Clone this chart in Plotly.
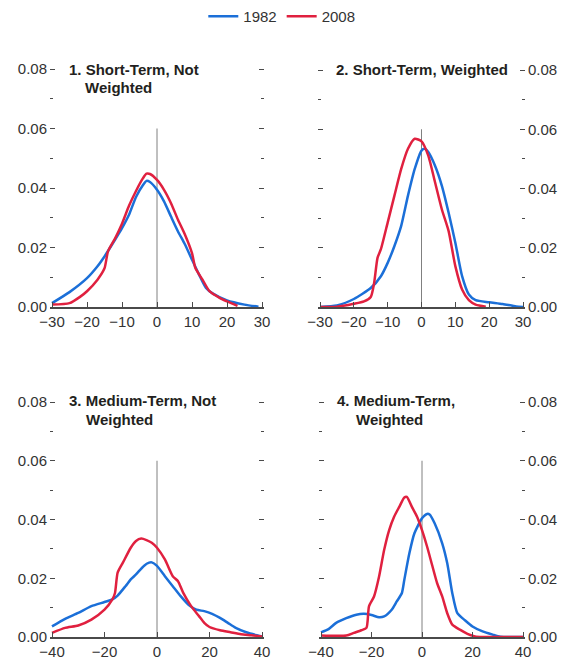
import plotly.graph_objects as go

W, H = 567, 664

# ---------------- data ----------------
p1_x_1982 = [-30, -25, -20, -17, -15, -12, -10, -8, -6, -4, -3, -2, 0, 2, 4, 6, 8, 10, 12, 14, 16, 20, 25, 29]
p1_y_1982 = [0.0013, 0.005, 0.0097, 0.0137, 0.017, 0.0226, 0.0265, 0.031, 0.037, 0.041, 0.0424, 0.042, 0.0394,
             0.0355, 0.0304, 0.0254, 0.021, 0.0159, 0.0109, 0.0064, 0.0045, 0.0022, 0.0008, 0.0001]
p1_x_2008 = [-30, -25, -22, -20, -17, -15, -14, -12, -10, -8, -6, -4, -3, -2, 0, 2, 4, 6, 8, 10, 11, 13, 15, 18, 20, 23]
p1_y_2008 = [0.0008, 0.0013, 0.0034, 0.0053, 0.0092, 0.013, 0.0187, 0.023, 0.028, 0.034, 0.039, 0.0433, 0.0448,
             0.0447, 0.0427, 0.0394, 0.0349, 0.0293, 0.0243, 0.0181, 0.013, 0.0092, 0.0053, 0.003, 0.0019, 0.0004]

p2_x_1982 = [-30, -25, -20, -15, -12, -10, -8, -6, -4, -2, 0, 1, 2, 4, 6, 8, 10, 12, 14, 16, 20, 24, 28, 30]
p2_y_1982 = [0.0, 0.0005, 0.0027, 0.0064, 0.0104, 0.0149, 0.0206, 0.0274, 0.0376, 0.0466, 0.0528, 0.0534, 0.0523,
             0.0477, 0.041, 0.0319, 0.0217, 0.0104, 0.0042, 0.0023, 0.0016, 0.001, 0.0002, 0.0]
p2_x_2008 = [-30, -25, -20, -17, -15, -14, -13, -12, -10, -8, -6, -4, -2, 0, 2, 4, 6, 8, 10, 12, 14, 16, 19]
p2_y_2008 = [0.0, 0.0001, 0.0011, 0.0019, 0.0034, 0.0081, 0.0166, 0.0195, 0.0285, 0.0376, 0.0466, 0.0534, 0.0568,
             0.0559, 0.0511, 0.0421, 0.033, 0.0257, 0.0138, 0.0059, 0.0023, 0.0008, 0.0001]

p3_x_1982 = [-40, -35, -30, -25, -20, -17, -15, -12, -10, -8, -5, -3, -2, 0, 3, 6, 9, 12, 15, 18, 21, 24, 27, 30, 34, 38, 40]
p3_y_1982 = [0.0036, 0.0062, 0.0082, 0.0105, 0.0119, 0.0128, 0.0141, 0.0173, 0.0196, 0.0213, 0.0242, 0.0253, 0.0254,
             0.0242, 0.0207, 0.0173, 0.0139, 0.011, 0.0093, 0.0088, 0.0079, 0.0065, 0.0048, 0.0031, 0.0016, 0.0006, 0.0002]
p3_x_2008 = [-40, -35, -30, -25, -20, -17, -16, -15, -13, -10, -8, -6, -4, -2, 0, 3, 6, 8, 10, 13, 16, 18, 20, 24, 28, 32, 36, 40]
p3_y_2008 = [0.0014, 0.0031, 0.0039, 0.0059, 0.0093, 0.0128, 0.015, 0.0219, 0.0253, 0.0304, 0.0327, 0.0335, 0.033,
             0.0321, 0.0304, 0.0264, 0.0207, 0.019, 0.015, 0.0105, 0.0071, 0.0048, 0.0034, 0.0023, 0.0016, 0.0009,
             0.0006, 0.0002]

p4_x_1982 = [-40, -37, -34, -30, -26, -23, -20, -17, -15, -12, -10, -8, -7, -5, -3, 0, 2, 3, 5, 8, 10, 12, 14, 17, 20,
             24, 28, 31, 40]
p4_y_1982 = [0.0016, 0.0027, 0.0048, 0.0064, 0.0076, 0.0079, 0.0075, 0.0067, 0.007, 0.0093, 0.0121, 0.0149, 0.0195,
             0.0285, 0.0353, 0.0404, 0.0419, 0.0417, 0.0387, 0.0319, 0.0251, 0.0149, 0.0081, 0.0057, 0.0036, 0.0019,
             0.0008, 0.0001, 0.0]
p4_x_2008 = [-40, -30, -27, -24, -22, -21, -19, -17, -15, -13, -11, -9, -7, -6, -4, -2, 0, 2, 4, 6, 8, 10, 12, 15, 18,
             21, 24, 40]
p4_y_2008 = [0.0005, 0.0005, 0.0014, 0.0023, 0.0031, 0.0104, 0.0138, 0.0206, 0.0296, 0.0364, 0.041, 0.0443, 0.0475,
             0.0477, 0.0443, 0.041, 0.0364, 0.0308, 0.0245, 0.0183, 0.0138, 0.0081, 0.0042, 0.0025, 0.0011, 0.0002,
             0.0, 0.0]

series_names = ["1982", "2008"]
titles_line1 = ["1. Short-Term, Not", "2. Short-Term, Weighted", "3. Medium-Term, Not", "4. Medium-Term,"]
titles_line2 = ["Weighted", "", "Weighted", "Weighted"]
y_ticks = [0.0, 0.02, 0.04, 0.06, 0.08]
x_ticks_short = [-30, -20, -10, 0, 10, 20, 30]
x_ticks_medium = [-40, -20, 0, 20, 40]

# ---------------- style ----------------
BLUE = "#1b6fd8"
RED = "#e0203f"
FONT = "Liberation Sans, Arial, sans-serif"
TXT = "#333333"
AX = "#4a4a4a"
PAD = 2.0  # px padding so end ticks are not clipped

def px_x(p):
    return p / W

def px_y(p):
    return 1 - p / H

panels = [
    dict(xs=(p1_x_1982, p1_y_1982, p1_x_2008, p1_y_2008), dom_x=(52, 262), dom_y=(69, 307),
         xr=(-30, 30), xt=x_ticks_short, side="left", t1=(67, 70), t2=(83, 88)),
    dict(xs=(p2_x_1982, p2_y_1982, p2_x_2008, p2_y_2008), dom_x=(320, 523), dom_y=(70, 307),
         xr=(-30, 30), xt=x_ticks_short, side="right", t1=(334, 70), t2=None),
    dict(xs=(p3_x_1982, p3_y_1982, p3_x_2008, p3_y_2008), dom_x=(52, 262), dom_y=(402, 637),
         xr=(-40, 40), xt=x_ticks_medium, side="left", t1=(67, 400), t2=(84, 419)),
    dict(xs=(p4_x_1982, p4_y_1982, p4_x_2008, p4_y_2008), dom_x=(321, 523), dom_y=(402, 637),
         xr=(-40, 40), xt=x_ticks_medium, side="right", t1=(335, 400), t2=(354, 419)),
]

fig = go.Figure()
annotations = []
shapes = []
layout_axes = {}

for i, p in enumerate(panels):
    n = i + 1
    xa = "x" if n == 1 else f"x{n}"
    ya = "y" if n == 1 else f"y{n}"
    x82, y82, x08, y08 = p["xs"]
    fig.add_trace(go.Scatter(x=x82, y=y82, mode="lines", name=series_names[0],
                             line=dict(color=BLUE, width=2.5, shape="spline", smoothing=0.6),
                             xaxis=xa, yaxis=ya, showlegend=(n == 1), legendrank=1))
    fig.add_trace(go.Scatter(x=x08, y=y08, mode="lines", name=series_names[1],
                             line=dict(color=RED, width=2.5, shape="spline", smoothing=0.6),
                             xaxis=xa, yaxis=ya, showlegend=(n == 1), legendrank=2))
    xkey = "xaxis" if n == 1 else f"xaxis{n}"
    ykey = "yaxis" if n == 1 else f"yaxis{n}"

    # padded ranges/domains (keep data-to-pixel mapping, avoid end-tick clipping)
    x0, x1 = p["xr"]
    xpx = (p["dom_x"][1] - p["dom_x"][0]) / (x1 - x0)
    xpad = PAD / xpx
    ytop, ybot = p["dom_y"]
    ypx = (ybot - ytop) / 0.08
    ypad = PAD / ypx

    layout_axes[xkey] = dict(
        domain=[px_x(p["dom_x"][0] - PAD), px_x(p["dom_x"][1] + PAD)], anchor=ya,
        range=[x0 - xpad, x1 + xpad], tickvals=p["xt"], ticks="inside", ticklen=5, tickwidth=1.2,
        tickcolor=AX, showline=True, linecolor=AX, linewidth=1.5, showgrid=False, zeroline=False,
        tickfont=dict(family=FONT, size=15, color=TXT), fixedrange=True, automargin=False,
    )
    layout_axes[ykey] = dict(
        domain=[px_y(ybot), px_y(ytop - PAD)], anchor=xa, side=p["side"],
        range=[0, 0.08 + ypad], tickvals=y_ticks, tickformat=".2f", ticks="inside", ticklen=5,
        tickwidth=1.2, tickcolor=AX, mirror="ticks", showline=False, showgrid=False,
        zeroline=False, ticklabelstandoff=2, automargin=False,
        minor=dict(dtick=0.01, ticks="inside", ticklen=3, tickwidth=1.2, tickcolor=AX, showgrid=False),
        tickfont=dict(family=FONT, size=15, color=TXT), fixedrange=True,
    )
    shapes.append(dict(type="line", xref=xa, yref=ya, x0=0, x1=0, y0=0, y1=0.06,
                       line=dict(color="#808080", width=1), layer="below"))
    annotations.append(dict(text=f"<b>{titles_line1[i]}</b>", xref="paper", yref="paper",
                            x=px_x(p["t1"][0]), y=px_y(p["t1"][1]), xanchor="left", yanchor="middle",
                            showarrow=False, font=dict(family=FONT, size=15, color="#231f20")))
    if titles_line2[i]:
        annotations.append(dict(text=f"<b>{titles_line2[i]}</b>", xref="paper", yref="paper",
                                x=px_x(p["t2"][0]), y=px_y(p["t2"][1]), xanchor="left", yanchor="middle",
                                showarrow=False, font=dict(family=FONT, size=15, color="#231f20")))

fig.update_layout(
    width=W, height=H, margin=dict(l=0, r=0, t=0, b=0, autoexpand=False),
    paper_bgcolor="white", plot_bgcolor="white",
    showlegend=True,
    legend=dict(orientation="h", x=0.497, xanchor="center", y=1.0, yanchor="top",
                font=dict(family=FONT, size=15, color=TXT), itemwidth=30,
                bgcolor="rgba(0,0,0,0)", tracegroupgap=0),
    annotations=annotations, shapes=shapes,
    **layout_axes,
)

fig.write_html("out.html", config={"responsive": False},
               post_script="document.body.style.margin='0';document.body.style.padding='0';")
